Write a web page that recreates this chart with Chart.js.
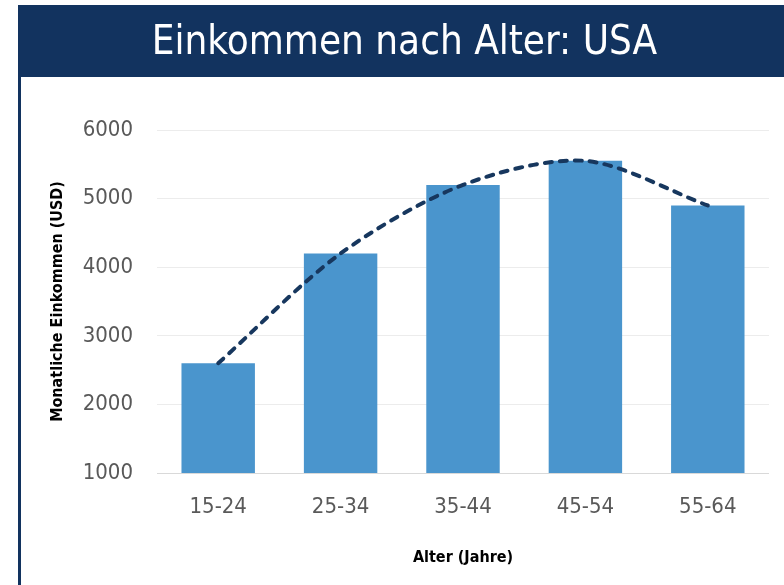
<!DOCTYPE html>
<html>
<head>
<meta charset="utf-8">
<script src="https://cdn.jsdelivr.net/npm/chart.js@4/dist/chart.umd.min.js"></script>
<style>
  html, body { margin: 0; padding: 0; background: #ffffff; }
  #wrap { position: relative; width: 784px; height: 585px; }
</style>
</head>
<body>
<div id="wrap"><canvas id="c" width="784" height="585"></canvas></div>
<script>
const categories = ['15-24', '25-34', '35-44', '45-54', '55-64'];
const incomeValues = [2600, 4200, 5200, 5550, 4900];
const trendValues = [2600, 4200, 5200, 5550, 4900];
const yTicks = [1000, 2000, 3000, 4000, 5000, 6000];
const chartTitle = 'Einkommen nach Alter: USA';
const yTitle = 'Monatliche Einkommen (USD)';
const xTitle = 'Alter (Jahre)';

const FONT = "'Liberation Sans Narrow', 'DejaVu Sans Condensed', 'Liberation Sans', sans-serif";
const NAVY = '#12335f';

const framePlugin = {
  id: 'frame',
  beforeDraw(chart) {
    const ctx = chart.ctx;
    ctx.save();
    ctx.fillStyle = '#ffffff';
    ctx.fillRect(0, 0, chart.width, chart.height);
    ctx.fillStyle = NAVY;
    ctx.fillRect(18, 5, chart.width - 18, 72);
    ctx.fillRect(18, 77, 3, chart.height - 77);
    ctx.restore();
  }
};

new Chart(document.getElementById('c'), {
  data: {
    labels: categories,
    datasets: [
      {
        type: 'line',
        label: 'Trend',
        data: trendValues,
        borderColor: '#17375e',
        borderWidth: 4,
        borderDash: [7, 8],
        borderCapStyle: 'round',
        tension: 0.3,
        pointRadius: 0,
        fill: false,
        order: 0
      },
      {
        type: 'bar',
        label: 'Einkommen',
        data: incomeValues,
        backgroundColor: '#4a95cd',
        barPercentage: 0.6,
        categoryPercentage: 1.0,
        order: 1
      }
    ]
  },
  plugins: [framePlugin],
  options: {
    responsive: false,
    animation: false,
    layout: { padding: { left: 40, right: 15, top: 5, bottom: 0 } },
    plugins: {
      legend: { display: false },
      tooltip: { enabled: false },
      title: {
        display: true,
        text: chartTitle,
        color: '#ffffff',
        font: { family: FONT, size: 40, weight: 'normal', lineHeight: 1.2 },
        padding: { top: 15, bottom: 62 }
      }
    },
    scales: {
      x: {
        grid: { display: false, drawTicks: false },
        border: { display: false },
        ticks: { color: '#595959', font: { family: FONT, size: 22 }, padding: 21 },
        title: {
          display: true,
          text: xTitle,
          color: '#000000',
          font: { family: FONT, size: 16, weight: 'bold' },
          padding: { top: 0, bottom: 18 }
        },
        afterFit(scale) { scale.height = 112; }
      },
      y: {
        min: 1000,
        max: 6000,
        afterBuildTicks(scale) { scale.ticks = yTicks.map(v => ({ value: v })); },
        grid: {
          drawTicks: false,
          color: (ctx) => ctx.tick && ctx.tick.value === 1000 ? '#d9d9d9' : '#ececec',
          lineWidth: 1
        },
        border: { display: false },
        ticks: {
          color: '#595959',
          font: { family: FONT, size: 22 },
          padding: 24,
          callback: (v) => String(v)
        },
        title: {
          display: true,
          text: yTitle,
          color: '#000000',
          font: { family: FONT, size: 16, weight: 'bold' },
          padding: { top: 8, bottom: 0 }
        },
        afterFit(scale) { scale.width = 117; }
      }
    }
  }
});
</script>
</body>
</html>
